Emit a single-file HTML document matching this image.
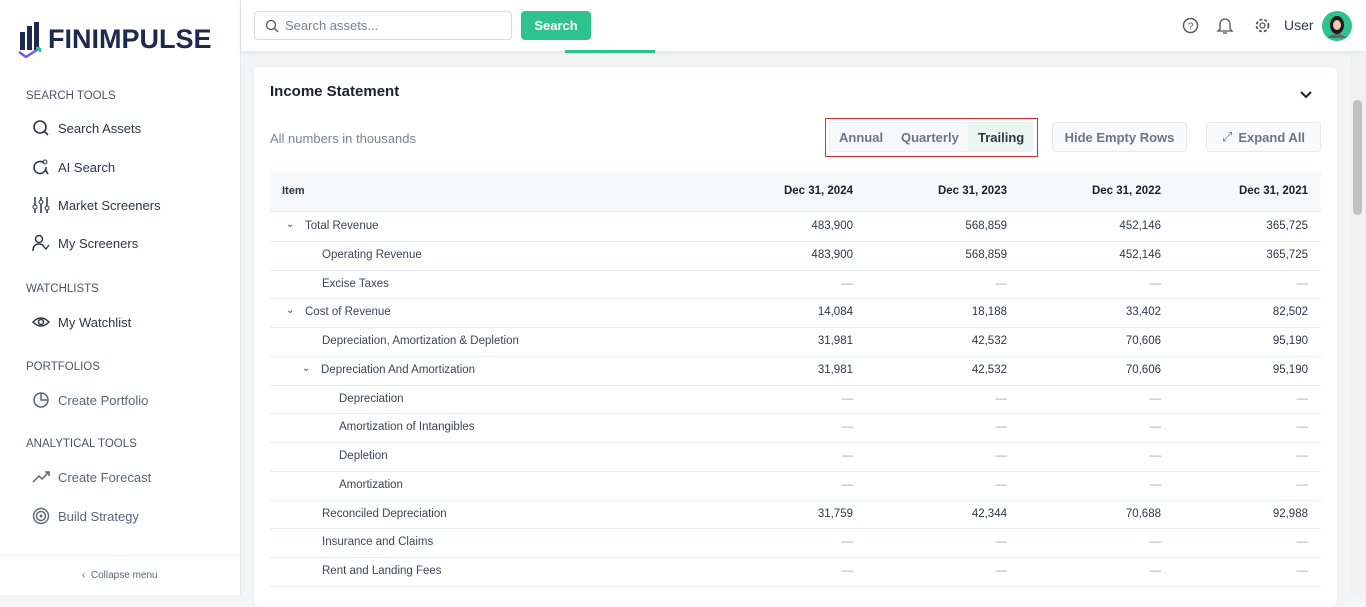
<!DOCTYPE html>
<html><head><meta charset="utf-8">
<style>
*{box-sizing:border-box;margin:0;padding:0}
body{width:1366px;height:595px;overflow:hidden;font-family:"Liberation Sans",sans-serif;background:#f3f5f7;position:relative;color:#2d3748}
.abs{position:absolute}
#sidebar{left:0;top:0;width:241px;height:595px;background:#fff;border-right:1px solid #e2e8f0}
.sec{position:absolute;left:26px;font-size:11.5px;color:#4a5568;letter-spacing:0}
.item{position:absolute;left:32px;font-size:13px;color:#2d3748;display:flex;align-items:center;gap:8px}
.item svg{width:18px;height:18px}
.item.dim{color:#5a6778}
#topbar{left:241px;top:0;width:1125px;height:51px;background:#fff;box-shadow:0 2px 4px rgba(0,0,0,0.08)}
#card{left:254px;top:67px;width:1083px;height:540px;background:#fff;border-radius:6px;box-shadow:0 1px 3px rgba(0,0,0,0.06)}
.btn{position:absolute;top:122px;height:30px;border:1px solid #e5e9ee;border-radius:4px;background:#f8fafb;font-size:13px;font-weight:bold;color:#6b7785;display:flex;align-items:center;justify-content:center}
.cell{position:absolute;font-size:11.5px;color:#2d3748;white-space:nowrap}
.num{text-align:right}
.dash{color:#a0a8b2}
</style></head><body>
<div id="sidebar" class="abs">
  <div class="abs" style="left:18px;top:20px;display:flex;align-items:center">
    <svg width="26" height="38" viewBox="0 0 26 38"><rect x="2" y="12" width="5" height="18" fill="#1d2a4d"/><rect x="9" y="6" width="5" height="24" fill="#1d2a4d"/><rect x="16" y="2" width="5" height="28" fill="#1d2a4d"/><path d="M1 32 L8 37 L22 28" stroke="#6b5ce7" stroke-width="2.5" fill="none"/><path d="M22 28 l-4 0 M22 28 l0 4" stroke="#2ec28e" stroke-width="2.5"/></svg>
    <span style="font-size:27px;font-weight:bold;color:#1d2a4d;margin-left:4px;letter-spacing:0">FINIMPULSE</span>
  </div>
  <div class="sec" style="top:90px">SEARCH TOOLS</div>
  <div class="item" style="top:119px"><svg viewBox="0 0 18 18"><circle cx="8" cy="8" r="6" stroke="#2d3748" stroke-width="1.6" fill="none"/><path d="M12.5 12.5 L16 16" stroke="#2d3748" stroke-width="1.6"/></svg>Search Assets</div>
  <div class="item" style="top:158px"><svg viewBox="0 0 18 18"><path d="M12 5 A6 6 0 1 0 14 9" stroke="#2d3748" stroke-width="1.6" fill="none"/><path d="M13 11 L16 16" stroke="#2d3748" stroke-width="1.6"/><circle cx="13" cy="4" r="2" fill="none" stroke="#2d3748"/></svg>AI Search</div>
  <div class="item" style="top:196px"><svg viewBox="0 0 18 18"><path d="M3 1v16M9 1v16M15 1v16" stroke="#2d3748" stroke-width="1.5"/><circle cx="3" cy="11" r="2" fill="#fff" stroke="#2d3748"/><circle cx="9" cy="6" r="2" fill="#fff" stroke="#2d3748"/><circle cx="15" cy="12" r="2" fill="#fff" stroke="#2d3748"/></svg>Market Screeners</div>
  <div class="item" style="top:234px"><svg viewBox="0 0 18 18"><circle cx="7" cy="5" r="3.5" stroke="#2d3748" stroke-width="1.5" fill="none"/><path d="M1 17 Q1 10 7 10 Q11 10 12 13" stroke="#2d3748" stroke-width="1.5" fill="none"/><path d="M12 13 l2 2 l3 -4" stroke="#2d3748" stroke-width="1.3" fill="none"/></svg>My Screeners</div>
  <div class="sec" style="top:283px">WATCHLISTS</div>
  <div class="item" style="top:313px"><svg viewBox="0 0 18 18"><path d="M1 9 Q9 1 17 9 Q9 17 1 9Z" stroke="#2d3748" stroke-width="1.5" fill="none"/><circle cx="9" cy="9" r="2.5" stroke="#2d3748" stroke-width="1.5" fill="none"/></svg>My Watchlist</div>
  <div class="sec" style="top:361px">PORTFOLIOS</div>
  <div class="item dim" style="top:391px"><svg viewBox="0 0 18 18"><circle cx="9" cy="9" r="7" stroke="#5a6778" stroke-width="1.5" fill="none"/><path d="M9 2 V9 H16" stroke="#5a6778" stroke-width="1.5" fill="none"/></svg>Create Portfolio</div>
  <div class="sec" style="top:438px">ANALYTICAL TOOLS</div>
  <div class="item dim" style="top:468px"><svg viewBox="0 0 18 18"><path d="M1 14 L7 8 L10 11 L17 4 M13 4 H17 V8" stroke="#5a6778" stroke-width="1.5" fill="none"/></svg>Create Forecast</div>
  <div class="item dim" style="top:507px"><svg viewBox="0 0 18 18"><circle cx="9" cy="9" r="7.5" stroke="#5a6778" stroke-width="1.4" fill="none"/><circle cx="9" cy="9" r="4.5" stroke="#5a6778" stroke-width="1.4" fill="none"/><circle cx="9" cy="9" r="1.5" fill="#5a6778"/></svg>Build Strategy</div>
  <div class="abs" style="left:0;top:555px;width:240px;border-top:1px solid #e8ecf0"></div>
  <div class="abs" style="left:82px;top:570px;font-size:10px;color:#5a6778">‹&nbsp; Collapse menu</div>
</div>

<div id="topbar" class="abs"></div>
<div class="abs" style="left:254px;top:11px;width:258px;height:29px;border:1px solid #d5dbe1;border-radius:4px;background:#fff;font-size:13px;color:#7a8591;display:flex;align-items:center;padding-left:10px;gap:6px"><svg width="14" height="14" viewBox="0 0 14 14"><circle cx="6" cy="6" r="4.5" stroke="#555" stroke-width="1.3" fill="none"/><path d="M9.5 9.5 L13 13" stroke="#555" stroke-width="1.3"/></svg>Search assets...</div>
<div class="abs" style="left:521px;top:11px;width:70px;height:29px;background:#2ec28e;border-radius:4px;color:#fff;font-size:13px;font-weight:bold;display:flex;align-items:center;justify-content:center">Search</div>
<div class="abs" style="left:565px;top:50px;width:90px;height:3px;background:#2ec28e"></div>
<svg class="abs" style="left:1182px;top:17px" width="17" height="17"><circle cx="8.5" cy="8.5" r="7" stroke="#555" stroke-width="1.4" fill="none"/><text x="8.5" y="12.5" font-size="10" text-anchor="middle" fill="#555" font-family="Liberation Sans">?</text></svg>
<svg class="abs" style="left:1216px;top:16px" width="18" height="19"><path d="M4 13 V8 A5 5 0 0 1 14 8 V13 L16 15 H2 Z" stroke="#555" stroke-width="1.3" fill="none"/><path d="M7 17 H11" stroke="#555" stroke-width="1.3"/></svg>
<svg class="abs" style="left:1254px;top:17px" width="17" height="17"><circle cx="8.5" cy="8.5" r="2.5" stroke="#555" stroke-width="1.3" fill="none"/><circle cx="8.5" cy="8.5" r="6" stroke="#555" stroke-width="1.8" stroke-dasharray="3 2" fill="none"/></svg>
<div class="abs" style="left:1284px;top:17px;font-size:14px;color:#2d3748">User</div>
<svg class="abs" style="left:1322px;top:11px" width="30" height="30"><circle cx="15" cy="15" r="15" fill="#2ec28e"/><ellipse cx="15" cy="14" rx="7" ry="9" fill="#1a1a1a"/><ellipse cx="15" cy="14" rx="4" ry="5" fill="#f2c9a8"/><path d="M5 27 Q15 19 25 27" fill="#666"/></svg>

<div class="abs" style="left:1350px;top:53px;width:16px;height:542px;background:#f1f1f1"><div style="position:absolute;left:3px;top:47px;width:9px;height:115px;background:#c1c1c1;border-radius:5px"></div></div>

<div id="card" class="abs"></div>
<div class="abs" style="left:270px;top:83px;font-size:15px;font-weight:bold;color:#1a202c">Income Statement</div>
<svg class="abs" style="left:1299px;top:90px" width="14" height="10"><path d="M2 2 L7 7 L12 2" stroke="#222" stroke-width="2" fill="none"/></svg>
<div class="abs" style="left:270px;top:131px;font-size:13px;color:#7a8591">All numbers in thousands</div>
<div class="abs" style="left:825px;top:118px;width:213px;height:39px;border:1px solid #d32f2f"></div>
<div class="abs" style="left:829px;top:122px;width:204px;height:30px;background:#f6f8fa;border-radius:3px;border:1px solid #edf0f3"></div>
<div class="abs" style="left:968px;top:123px;width:64px;height:28px;background:#e9f7f0"></div>
<div class="abs" style="left:839px;top:130px;font-size:13px;font-weight:bold;color:#6b7785">Annual</div>
<div class="abs" style="left:901px;top:130px;font-size:13px;font-weight:bold;color:#6b7785">Quarterly</div>
<div class="abs" style="left:978px;top:130px;font-size:13px;font-weight:bold;color:#2d3748">Trailing</div>
<div class="btn" style="left:1052px;width:135px">Hide Empty Rows</div>
<div class="btn" style="left:1206px;width:115px"><span style="font-weight:normal;margin-right:6px">⤢</span>Expand All</div>

<div class="abs" style="left:270px;top:171px;width:1051px;height:41px;background:#f6f8fa;border-bottom:1px solid #e5e9ee"></div>
<div id="table"></div>

<script>
const items = ["Total Revenue","Operating Revenue","Excise Taxes","Cost of Revenue","Depreciation, Amortization & Depletion","Depreciation And Amortization","Depreciation","Amortization of Intangibles","Depletion","Amortization","Reconciled Depreciation","Insurance and Claims","Rent and Landing Fees"];
const levels = [0,1,1,0,1,1,2,2,2,2,1,1,1];
const expandable = [1,0,0,1,0,1,0,0,0,0,0,0,0];
const periods = ["Dec 31, 2024","Dec 31, 2023","Dec 31, 2022","Dec 31, 2021"];
const v2024 = [483900,483900,null,14084,31981,31981,null,null,null,null,31759,null,null];
const v2023 = [568859,568859,null,18188,42532,42532,null,null,null,null,42344,null,null];
const v2022 = [452146,452146,null,33402,70606,70606,null,null,null,null,70688,null,null];
const v2021 = [365725,365725,null,82502,95190,95190,null,null,null,null,92988,null,null];
const series=[v2024,v2023,v2022,v2021];
const colRight=[853,1007,1161,1308];
const rowTop=212, rowH=28.75;
const t=document.getElementById('table');
function mk(cls,style,txt){const d=document.createElement('div');d.className=cls;d.style.cssText=style;d.textContent=txt;t.appendChild(d);return d;}
const h=mk('cell','left:282px;top:185px;font-weight:bold;font-size:11px','Item');


periods.forEach((p,j)=>{
 const d=mk('cell num','left:'+(colRight[j]-120)+'px;width:120px;top:185px;font-weight:bold;font-size:11.5px;color:#1a202c',p);
 
 
});
items.forEach((it,i)=>{
 const y=rowTop+i*rowH;
 const line=mk('abs','left:270px;top:'+(y+rowH)+'px;width:1051px;height:1px;background:#e8ecf0','');
 
 
 const lv=levels[i];
 let x = expandable[i] ? (lv===0?305:321) : (lv===1?322:339);
 if(expandable[i]){
  const c=mk('cell','left:'+(x-19)+'px;top:'+(y+7)+'px;font-size:10px;color:#444','⌄');
  
  
 }
 const l=mk('cell','left:'+x+'px;top:'+(y+8)+'px;color:#3c4654',it);
 
 
 series.forEach((s,j)=>{
  const v=s[i];
  const txt=v===null?'—':v.toLocaleString('en-US');
  const d=mk('cell num'+(v===null?' dash':''),'left:'+(colRight[j]-120)+'px;width:120px;top:'+(y+8)+'px',txt);
  
  
 });
});
</script>
</body></html>
